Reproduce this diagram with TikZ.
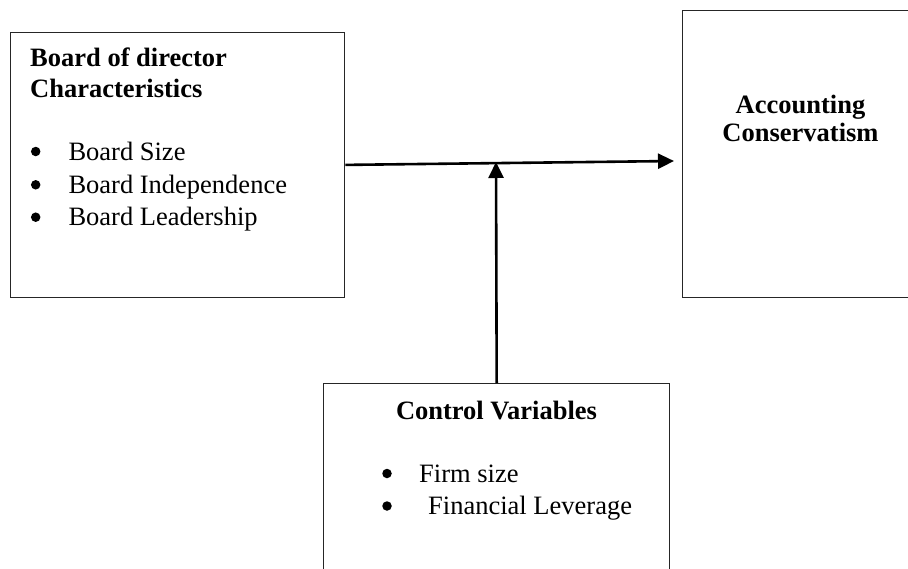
\documentclass[tikz,border=0pt]{standalone}
\usepackage{fontspec}
\setmainfont{Liberation Serif}
\usetikzlibrary{arrows.meta}
\begin{document}
\begin{tikzpicture}[x=1pt,y=-1pt,
  box/.style={draw=black!85, line width=1.4pt, rectangle, inner sep=0pt, anchor=north west},
  label/.style={inner sep=0pt, anchor=base west, font=\fontsize{26.5}{31}\selectfont},
  title/.style={label, font=\fontsize{26.5}{31}\selectfont\bfseries},
  dot/.style={circle, fill=black, inner sep=0pt, minimum size=9.5pt},
  link/.style={line width=2.6pt, -{Triangle[length=16pt,width=15pt]}}]
\useasboundingbox (0,0) rectangle (908,568);
\begin{scope}
\clip (0,0) rectangle (908,568);

% boxes
\node[box, minimum width=334pt, minimum height=265pt] (board) at (10,31.7) {};
\node[box, minimum width=240pt, minimum height=287pt] (acc) at (682,9.5) {};
\node[box, minimum width=346pt, minimum height=200pt] (ctrl) at (323,383) {};

% board characteristics
\node[title] (bt1) at (30,66.7) {Board of director};
\node[title] (bt2) at (30,97.3) {Characteristics};
\node[dot] (bb1) at (35.7,151.5) {};
\node[label] (bl1) at (68.3,160) {Board Size};
\node[dot] (bb2) at (35.7,184.8) {};
\node[label] (bl2) at (68.3,193.3) {Board Independence};
\node[dot] (bb3) at (35.7,217.2) {};
\node[label] (bl3) at (68.3,225.7) {Board Leadership};

% dependent variable
\node[title, anchor=base] (at1) at (800.5,113) {Accounting};
\node[title, anchor=base] (at2) at (800.5,141.7) {Conservatism};

% control variables
\node[title, anchor=base] (ct) at (496.5,419) {Control Variables};
\node[dot] (cb1) at (387,473.5) {};
\node[label] (cl1) at (419,482) {Firm size};
\node[dot] (cb2) at (387,506) {};
\node[label] (cl2) at (428,514.5) {Financial Leverage};

% connectors
\coordinate (hit) at (674,161);
\coordinate (join) at (496,162);
\draw[link] (board.east) -- (hit);
\draw[link] (ctrl.north) -- (join);
\end{scope}
\end{tikzpicture}
\end{document}
